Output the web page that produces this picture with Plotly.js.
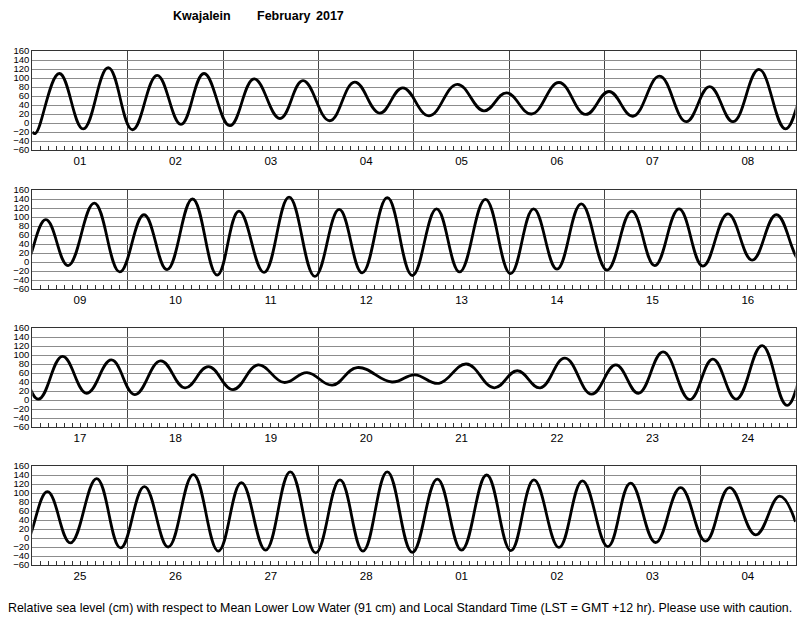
<!DOCTYPE html>
<html>
<head>
<meta charset="utf-8">
<script src="https://cdn.plot.ly/plotly-3.0.1.min.js"></script>
<style>html,body{margin:0;padding:0;background:#fff;}#chart{width:800px;height:618px;}</style>
</head>
<body>
<div id="chart"></div>
<script>
// Tide extrema (hours from start of each 8-day panel) and heights (cm)
const week1Hours  = [0, 0.8, 6.8, 12.8, 19.1, 25.2, 31.4, 37.4, 43.2, 49.7, 55.8, 62.3, 68.1, 74.8, 81.1, 87.4, 93.2, 99.8, 106.9, 113.6, 119.3, 125.6, 132.5, 139.2, 145.1, 151.1, 157.8, 164.5, 170.4, 176.3, 182.8, 189.5];
const week1Levels = [-20, -23, 110, -13, 123, -15, 106, -3, 110, -6, 98, 10, 94, 5, 91, 22, 78, 16, 86, 27, 67, 20, 90, 19, 70, 15, 104, 3, 81, 3, 119, -13];
const week2Hours  = [3.4, 9.0, 15.6, 22.0, 28.1, 33.9, 40.3, 46.5, 52.0, 58.3, 64.6, 71.1, 77.2, 83.0, 89.3, 95.6, 101.7, 107.5, 114.0, 120.3, 126.1, 132.0, 138.1, 144.6, 150.8, 156.6, 162.7, 168.7, 175.0, 181.1, 187.2];
const week2Levels = [94, -8, 131, -22, 105, -17, 140, -29, 113, -23, 144, -32, 117, -24, 143, -30, 118, -22, 139, -26, 118, -16, 129, -18, 113, -8, 118, -9, 107, 4, 105];
const week3Hours  = [1.5, 7.6, 13.7, 19.9, 25.8, 32.3, 38.4, 44.3, 50.5, 56.8, 63.3, 69.1, 75.5, 81.7, 90.5, 96.2, 102.3, 109.2, 116.2, 122.0, 127.8, 134.0, 140.7, 146.8, 152.5, 158.7, 165.4, 171.2, 177.1, 183.6, 189.9];
const week3Levels = [2, 97, 15, 89, 12, 87, 27, 74, 23, 78, 39, 61, 33, 72, 40, 56, 37, 80, 27, 65, 27, 93, 13, 78, 15, 107, 1, 91, 2, 121, -12];
const week4Hours  = [3.8, 9.6, 16.2, 22.2, 28.2, 34.2, 40.5, 46.8, 52.6, 58.7, 64.9, 71.3, 77.4, 83.2, 89.3, 95.6, 101.9, 108.0, 114.3, 120.4, 126.2, 132.5, 138.4, 144.8, 150.5, 156.8, 163.1, 169.4, 175.4, 182.0, 188.0, 192];
const week4Levels = [103, -11, 132, -22, 114, -20, 141, -29, 123, -27, 147, -33, 129, -29, 147, -32, 131, -27, 140, -28, 129, -21, 127, -19, 122, -10, 112, -7, 112, 7, 93, 36];

const panelStarts = ['2017-02-01', '2017-02-09', '2017-02-17', '2017-02-25'];
const panelEnds   = ['2017-02-09', '2017-02-17', '2017-02-25', '2017-03-05'];
const yTicks = [-60, -40, -20, 0, 20, 40, 60, 80, 100, 120, 140, 160];

const titleParts = ['Kwajalein', 'February', '2017'];
const footerText = 'Relative sea level (cm) with respect to Mean Lower Low Water (91 cm) and Local Standard Time (LST = GMT +12 hr). Please use with caution.';

function toDateStr(panelIdx, h) {
  const base = Date.UTC(2017, 1, 1) + panelIdx * 8 * 86400000;
  const d = new Date(base + h * 3600000);
  return d.toISOString().slice(0, 19).replace('T', ' ');
}

const weeksH = [week1Hours, week2Hours, week3Hours, week4Hours];
const weeksL = [week1Levels, week2Levels, week3Levels, week4Levels];
const allX = [], allY = [];
weeksH.forEach((hs, p) => hs.forEach((h, k) => { allX.push(toDateStr(p, h)); allY.push(weeksL[p][k]); }));

const H = 618, W = 800;
const panelTopsPx = [51, 190, 328, 466];
const panelH = 99;
const xDom = [32.3 / W, 795.5 / W];
const FONT = 'Liberation Sans, Arial, Helvetica, sans-serif';

const data = [];
const layout = {
  width: W, height: H,
  margin: {l: 0, r: 0, t: 0, b: 0},
  paper_bgcolor: '#fff', plot_bgcolor: '#fff',
  showlegend: false,
  font: {family: FONT, color: '#000'},
  annotations: []
};

for (let i = 0; i < 4; i++) {
  const sfx = i === 0 ? '' : String(i + 1);
  data.push({
    x: allX, y: allY, type: 'scatter', mode: 'lines',
    line: {color: '#000', width: 2.8, shape: 'spline', smoothing: 1.2},
    xaxis: 'x' + sfx, yaxis: 'y' + sfx, hoverinfo: 'skip'
  });
  const top = panelTopsPx[i], bot = top + panelH;
  layout['xaxis' + sfx] = {
    type: 'date', range: [panelStarts[i], panelEnds[i]], domain: xDom, anchor: 'y' + sfx,
    tick0: '2017-02-01', dtick: 86400000, tickformat: '%d', ticklabelmode: 'period',
    ticks: '', showgrid: true, gridcolor: '#444', gridwidth: 1,
    showline: true, mirror: true, linecolor: '#333', linewidth: 1,
    tickfont: {size: 11.5, family: FONT, color: '#000'},
    minor: {dtick: 7200000, tick0: '2017-02-01', ticks: 'inside', ticklen: 4, tickcolor: '#333', tickwidth: 1, showgrid: false},
    automargin: false, fixedrange: true
  };
  layout['yaxis' + sfx] = {
    range: [-60, 160], domain: [1 - bot / H, 1 - top / H], anchor: 'x' + sfx,
    tickmode: 'array', tickvals: yTicks,
    ticks: '', showgrid: true, gridcolor: '#8c8c8c', gridwidth: 1, zeroline: false,
    showline: true, mirror: true, linecolor: '#333', linewidth: 1,
    tickfont: {size: 9.5, family: FONT, color: '#000'},
    automargin: false, fixedrange: true
  };
}

const titleX = [202, 284, 330];
titleParts.forEach((t, k) => layout.annotations.push({
  text: '<b>' + t + '</b>', x: titleX[k] / W, y: 1 - 16 / H, xref: 'paper', yref: 'paper',
  xanchor: 'center', yanchor: 'middle', showarrow: false,
  font: {size: 12.5, family: FONT, color: '#000'}
}));
layout.annotations.push({
  text: footerText, x: 400 / W, y: 1 - 608 / H, xref: 'paper', yref: 'paper',
  xanchor: 'center', yanchor: 'middle', showarrow: false,
  font: {size: 12.4, family: FONT, color: '#000'}
});

Plotly.newPlot('chart', data, layout, {staticPlot: true, displayModeBar: false});
</script>
</body>
</html>
